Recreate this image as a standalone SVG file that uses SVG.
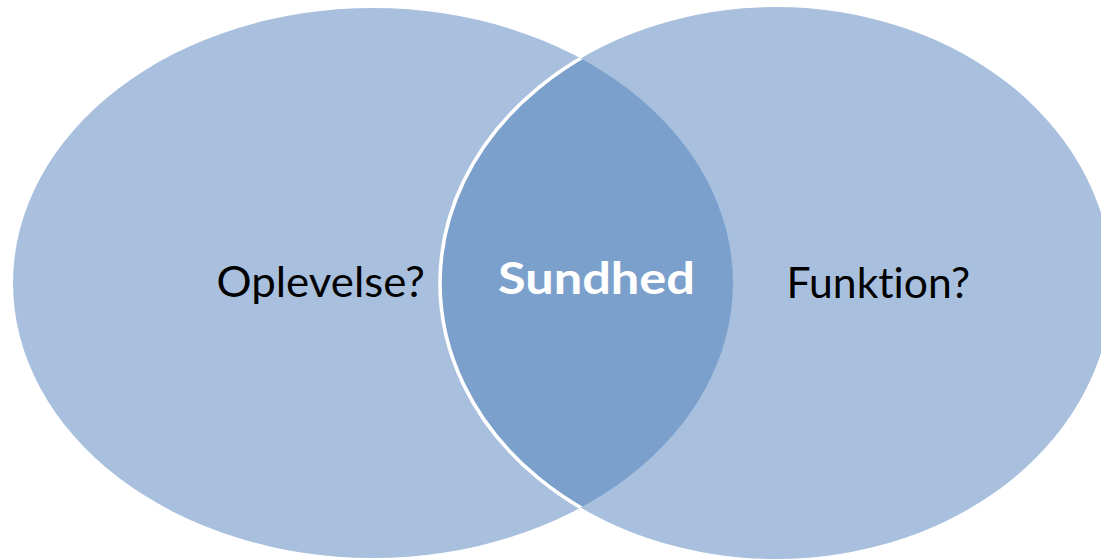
<svg xmlns="http://www.w3.org/2000/svg" width="1101" height="559" viewBox="0 0 1101 559">
  <defs>
    <style>
      .circle { fill: #A8C0DE; }
      .overlap { fill: #7CA0CC; }
      .edge { fill: none; stroke: #FFFFFF; stroke-width: 3.6; }
      .label { font-family: "Lato", "Open Sans", "Liberation Sans", sans-serif; font-size: 42px; fill: #000000; font-variant-ligatures: none; }
      .center { font-family: "Lato", "Open Sans", "Liberation Sans", sans-serif; font-size: 43px; font-weight: bold; fill: #FFFFFF; font-variant-ligatures: none; }
    </style>
    <clipPath id="clipLeft">
      <ellipse cx="373" cy="283" rx="360" ry="275"/>
    </clipPath>
  </defs>
  <rect x="0" y="0" width="1101" height="559" fill="#FFFFFF"/>
  <g id="node-oplevelse">
    <ellipse class="circle" cx="373" cy="283" rx="360" ry="275"/>
  </g>
  <g id="node-funktion">
    <ellipse class="circle" cx="776" cy="283" rx="336" ry="276"/>
  </g>
  <g id="node-sundhed">
    <ellipse class="overlap" cx="776" cy="283" rx="336" ry="276" clip-path="url(#clipLeft)"/>
    <ellipse class="edge" cx="776" cy="283" rx="336" ry="276" clip-path="url(#clipLeft)"/>
  </g>
  <g id="labels">
    <text class="label" x="216.5" y="297" textLength="208.5" lengthAdjust="spacingAndGlyphs">Oplevelse?</text>
    <text class="center" x="498" y="293.5" textLength="197" lengthAdjust="spacingAndGlyphs">Sundhed</text>
    <text class="label" x="786.5" y="298" textLength="183.5" lengthAdjust="spacingAndGlyphs">Funktion?</text>
  </g>
</svg>
